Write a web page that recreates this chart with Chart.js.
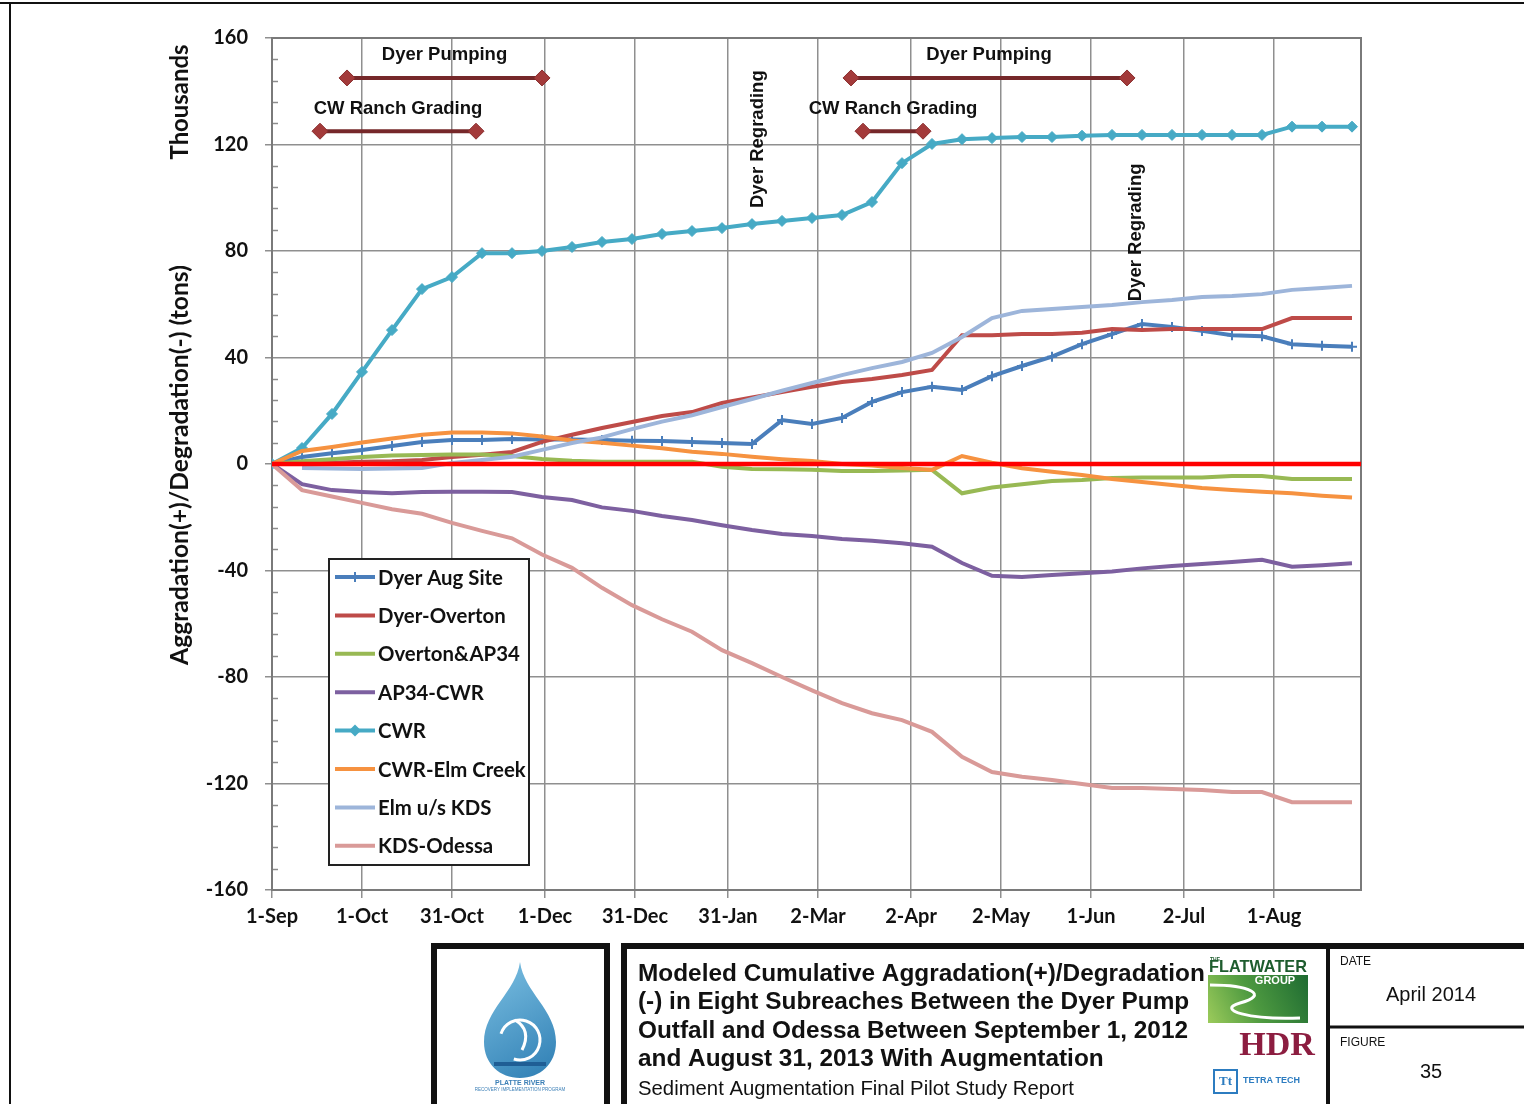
<!DOCTYPE html>
<html>
<head>
<meta charset="utf-8">
<script src="https://cdn.jsdelivr.net/npm/chart.js@4.4.1/dist/chart.umd.min.js"></script>
<style>
  html, body { margin: 0; padding: 0; background: #fff; }
  canvas { display: block; }
</style>
</head>
<body>
<canvas id="chart" width="1524" height="1104"></canvas>
<script>
// days since 1-Sep-2012, one model output every 10 days
const days = [0, 10, 20, 30, 40, 50, 60, 70, 80, 90, 100, 110, 120, 130, 140, 150, 160, 170, 180,
  190, 200, 210, 220, 230, 240, 250, 260, 270, 280, 290, 300, 310, 320, 330, 340, 350, 360];

const dateTickDays = [0, 30, 60, 91, 121, 152, 182, 213, 243, 273, 304, 334];
const dateTickLabels = ['1-Sep', '1-Oct', '31-Oct', '1-Dec', '31-Dec', '31-Jan', '2-Mar', '2-Apr', '2-May', '1-Jun', '2-Jul', '1-Aug'];

// cumulative tons (thousands)
const dyerAugSite = [0, 2.6, 4, 5.3, 6.8, 8.3, 9, 9, 9.4, 9.2, 9.2, 9, 8.7, 8.6, 8.3, 7.9, 7.5, 16.5, 15,
  17.3, 23.3, 27, 29, 27.8, 33, 36.8, 40.3, 45, 48.8, 52.6, 51.5, 50, 48.4, 48, 45, 44.4, 44];
const dyerOverton = [0, 0.3, 0.5, 0.8, 1, 1.5, 2.6, 3.5, 4.5, 8.3, 11, 13.5, 15.8, 18, 19.5, 22.9, 25, 27, 29,
  30.8, 31.9, 33.4, 35.3, 48.4, 48.4, 48.8, 48.8, 49.3, 50.7, 50.3, 50.7, 50.7, 50.7, 50.7, 54.8, 54.8, 54.8];
const overtonAP34 = [0, 1, 1.8, 2.6, 3.2, 3.4, 3.6, 3.6, 3, 1.9, 1.2, 0.8, 0.8, 0.8, 0.8, -1, -1.9, -2, -2.2,
  -2.6, -2.6, -2.4, -2.2, -11, -8.8, -7.6, -6.4, -6, -5.3, -5.1, -5.1, -5.1, -4.5, -4.5, -5.6, -5.6, -5.6];
const ap34Cwr = [0, -7.6, -9.8, -10.5, -11, -10.5, -10.4, -10.4, -10.5, -12.4, -13.5, -16.3, -17.6, -19.5, -21, -23, -24.8, -26.3, -27,
  -28.2, -28.8, -29.8, -31.1, -37.2, -42, -42.4, -41.7, -41, -40.4, -39.2, -38.3, -37.6, -36.8, -36, -38.6, -38, -37.3];
const cwr = [0, 6, 18.8, 34.6, 50.3, 65.7, 70.2, 79.2, 79.2, 80, 81.5, 83.4, 84.5, 86.4, 87.5, 88.6, 90.1, 91.3, 92.4,
  93.5, 98.4, 113, 120.2, 122, 122.4, 122.8, 122.8, 123.3, 123.6, 123.6, 123.6, 123.6, 123.6, 123.6, 126.7, 126.7, 126.7];
const cwrElmCreek = [0, 4.9, 6.4, 8.1, 9.6, 11, 11.8, 11.8, 11.5, 10.3, 8.8, 8, 6.9, 5.9, 4.6, 3.8, 2.7, 1.8, 1.1,
  0, -0.6, -1.5, -2.2, 3, 0.5, -1.6, -2.9, -4.1, -5.6, -6.8, -7.9, -9, -9.8, -10.4, -11, -11.9, -12.6];
const elmUsKds = [null, -1.5, -1.7, -1.9, -1.7, -1.5, 0.4, 1.5, 2.7, 5.3, 7.9, 10, 13.1, 15.9, 18.3, 21.4, 24.4, 27.5, 30.4,
  33.4, 36, 38.3, 41.7, 47.7, 54.8, 57.5, 58.2, 59, 59.7, 60.8, 61.6, 62.7, 63.1, 63.8, 65.4, 66.1, 66.9];
const kdsOdessa = [0, -9.8, -12.2, -14.6, -17, -18.7, -22.1, -25.1, -27.9, -34, -39, -46.5, -53, -58.3, -63, -69.9, -74.8, -80, -85,
  -89.8, -93.6, -96.2, -100.6, -110, -115.7, -117.5, -118.7, -120.2, -121.7, -121.7, -122.1, -122.4, -123.2, -123.2, -127, -127, -127];

const seriesNames = ['Dyer Aug Site', 'Dyer-Overton', 'Overton&AP34', 'AP34-CWR', 'CWR', 'CWR-Elm Creek', 'Elm u/s KDS', 'KDS-Odessa'];
const seriesValues = [dyerAugSite, dyerOverton, overtonAP34, ap34Cwr, cwr, cwrElmCreek, elmUsKds, kdsOdessa];

// construction activity periods (day numbers) and the level they are plotted at
const pumpingStart = [25, 193];
const pumpingEnd = [90, 285];
const pumpingLevel = 145;
const gradingStart = [16, 197];
const gradingEnd = [68, 217];
const gradingLevel = 125;
const regradingDays = [162, 288];

function getSeriesColor(name) {
    switch (name) {
        case 'Dyer Aug Site': return '#4A7EBB';
        case 'Dyer-Overton': return '#BE4B48';
        case 'Overton&AP34': return '#98B954';
        case 'AP34-CWR': return '#7D60A0';
        case 'CWR': return '#46AAC5';
        case 'CWR-Elm Creek': return '#F69240';
        case 'Elm u/s KDS': return '#9DB5DA';
        case 'KDS-Odessa': return '#D99A98';
        default: return '#888';
    }
}

function getSeriesMarker(name) {
    if (name === 'Dyer Aug Site') return { style: 'cross', radius: 5 };
    if (name === 'CWR') return { style: 'rectRot', radius: 5.5 };
    return null;
}

const datasets = seriesNames.map((name, i) => {
    const marker = getSeriesMarker(name);
    const color = getSeriesColor(name);
    return {
        label: name,
        data: days.map((d, j) => ({ x: d, y: seriesValues[i][j] })),
        borderColor: color,
        backgroundColor: color,
        borderWidth: 4,
        pointStyle: marker ? marker.style : 'circle',
        pointRadius: marker ? marker.radius : 0,
        pointBorderWidth: marker && marker.style === 'cross' ? 2 : 1,
        pointBorderColor: color,
        pointBackgroundColor: color,
        tension: 0,
        spanGaps: false,
        order: 20 - i
    };
});

// zero line
datasets.push({
    label: 'zero',
    data: [{ x: 0, y: 0 }, { x: 363, y: 0 }],
    borderColor: '#FF0000',
    borderWidth: 4.5,
    pointRadius: 0,
    order: 5
});

function activityBar(start, end, level) {
    return {
        label: 'activity',
        data: [{ x: start, y: level }, { x: end, y: level }],
        borderColor: '#76282A',
        borderWidth: 4,
        pointStyle: 'rectRot',
        pointRadius: 8,
        pointBackgroundColor: '#A33A3A',
        pointBorderColor: '#8A2E2E',
        pointBorderWidth: 1,
        order: 1
    };
}
pumpingStart.forEach((s, i) => datasets.push(activityBar(s, pumpingEnd[i], pumpingLevel)));
gradingStart.forEach((s, i) => datasets.push(activityBar(s, gradingEnd[i], gradingLevel)));

const TICK_FONT = { family: 'Lato', size: 20, weight: 'bold' };

function fitText(ctx, text, width, weight, family, baseSize) {
    ctx.font = weight + ' ' + baseSize + 'px ' + family;
    const w = ctx.measureText(text).width;
    const size = baseSize * width / w;
    ctx.font = weight + ' ' + size.toFixed(2) + 'px ' + family;
    return size;
}

const overlay = {
    id: 'overlay',
    beforeDatasetsDraw(chart) {
        const { ctx, chartArea, scales } = chart;
        const y = scales.y;
        ctx.save();
        ctx.strokeStyle = '#8c8c8c';
        ctx.lineWidth = 1.5;
        // minor ticks inside the plot
        for (let v = -160; v <= 160; v += 8) {
            if (v % 40 === 0) continue;
            const py = Math.round(y.getPixelForValue(v)) + 0.5;
            ctx.beginPath();
            ctx.moveTo(chartArea.left, py);
            ctx.lineTo(chartArea.left + 6, py);
            ctx.stroke();
        }
        // plot border
        ctx.strokeStyle = '#7a7a7a';
        ctx.lineWidth = 2;
        ctx.strokeRect(chartArea.left, chartArea.top, chartArea.right - chartArea.left, chartArea.bottom - chartArea.top);
        ctx.restore();
    },
    afterDraw(chart) {
        const { ctx, scales } = chart;
        const x = scales.x, y = scales.y;
        ctx.save();

        // activity labels
        ctx.fillStyle = '#111';
        ctx.textAlign = 'center';
        ctx.textBaseline = 'middle';
        ctx.font = 'bold 18.5px "Liberation Sans", Arial, sans-serif';
        pumpingStart.forEach((s, i) => {
            ctx.fillText('Dyer Pumping', x.getPixelForValue((s + pumpingEnd[i]) / 2), y.getPixelForValue(153.6));
        });
        gradingStart.forEach((s, i) => {
            ctx.fillText('CW Ranch Grading', x.getPixelForValue((s + gradingEnd[i]) / 2), y.getPixelForValue(133.2));
        });
        const regradingLevels = [122, 87];
        regradingDays.forEach((d, i) => {
            ctx.save();
            ctx.translate(x.getPixelForValue(d), y.getPixelForValue(regradingLevels[i]));
            ctx.rotate(-Math.PI / 2);
            ctx.fillText('Dyer Regrading', 0, 0);
            ctx.restore();
        });

        // axis titles
        ctx.save();
        ctx.translate(180, 102);
        ctx.rotate(-Math.PI / 2);
        fitText(ctx, 'Thousands', 115, 'bold', 'Lato, sans-serif', 22);
        ctx.fillText('Thousands', 0, 0);
        ctx.restore();
        ctx.save();
        ctx.translate(180, 465);
        ctx.rotate(-Math.PI / 2);
        fitText(ctx, 'Aggradation(+)/Degradation(-) (tons)', 400, 'bold', 'Lato, sans-serif', 22);
        ctx.fillText('Aggradation(+)/Degradation(-) (tons)', 0, 0);
        ctx.restore();

        // legend box
        const lx = 329, ly = 559, lw = 200, lh = 306;
        ctx.fillStyle = '#fff';
        ctx.fillRect(lx, ly, lw, lh);
        ctx.strokeStyle = '#222';
        ctx.lineWidth = 2;
        ctx.strokeRect(lx, ly, lw, lh);
        ctx.textAlign = 'left';
        fitText(ctx, 'Dyer Aug Site', 125, 'bold', 'Lato, sans-serif', 20);
        seriesNames.forEach((name, i) => {
            const ry = ly + 18 + i * 38.4;
            const color = getSeriesColor(name);
            ctx.strokeStyle = color;
            ctx.lineWidth = 4;
            ctx.beginPath();
            ctx.moveTo(lx + 6, ry);
            ctx.lineTo(lx + 46, ry);
            ctx.stroke();
            const marker = getSeriesMarker(name);
            if (marker) {
                ctx.fillStyle = color;
                if (marker.style === 'rectRot') {
                    ctx.beginPath();
                    ctx.moveTo(lx + 26, ry - 6); ctx.lineTo(lx + 32, ry);
                    ctx.lineTo(lx + 26, ry + 6); ctx.lineTo(lx + 20, ry);
                    ctx.closePath(); ctx.fill();
                } else {
                    ctx.lineWidth = 2;
                    ctx.beginPath();
                    ctx.moveTo(lx + 26, ry - 5); ctx.lineTo(lx + 26, ry + 5);
                    ctx.stroke();
                }
            }
            ctx.fillStyle = '#111';
            ctx.fillText(name, lx + 49, ry + 1);
        });

        drawTitleBlock(ctx);
        ctx.restore();
    }
};

function drawTitleBlock(ctx) {
    ctx.save();
    // page frame
    ctx.strokeStyle = '#111';
    ctx.lineWidth = 2;
    ctx.beginPath();
    ctx.moveTo(0, 3); ctx.lineTo(1524, 3);
    ctx.moveTo(10, 3); ctx.lineTo(10, 1104);
    ctx.stroke();

    // boxes
    ctx.lineWidth = 6;
    ctx.beginPath();
    ctx.moveTo(434, 1106); ctx.lineTo(434, 946); ctx.lineTo(607, 946); ctx.lineTo(607, 1106);
    ctx.stroke();
    ctx.beginPath();
    ctx.moveTo(624, 1106); ctx.lineTo(624, 946); ctx.lineTo(1530, 946);
    ctx.stroke();
    ctx.lineWidth = 4;
    ctx.beginPath();
    ctx.moveTo(1328, 946); ctx.lineTo(1328, 1106);
    ctx.stroke();
    ctx.lineWidth = 3;
    ctx.beginPath();
    ctx.moveTo(1328, 1027); ctx.lineTo(1530, 1027);
    ctx.stroke();

    // Platte River drop logo
    const grad = ctx.createLinearGradient(484, 962, 556, 1080);
    grad.addColorStop(0, '#7CC0E2');
    grad.addColorStop(1, '#2D7DB3');
    ctx.fillStyle = grad;
    ctx.beginPath();
    ctx.moveTo(520, 962);
    ctx.bezierCurveTo(524, 992, 556, 1010, 556, 1042);
    ctx.bezierCurveTo(556, 1064, 540, 1078, 520, 1078);
    ctx.bezierCurveTo(500, 1078, 484, 1064, 484, 1042);
    ctx.bezierCurveTo(484, 1010, 516, 992, 520, 962);
    ctx.fill();
    ctx.strokeStyle = '#fff';
    ctx.lineWidth = 3;
    ctx.beginPath();
    ctx.arc(520, 1040, 20, Math.PI * 1.1, Math.PI * 2.6);
    ctx.stroke();
    ctx.beginPath();
    ctx.moveTo(515, 1020); ctx.quadraticCurveTo(532, 1030, 522, 1050);
    ctx.stroke();
    ctx.fillStyle = '#1F5E95';
    ctx.fillRect(494, 1062, 52, 4);
    ctx.fillStyle = '#3B7FB6';
    ctx.textAlign = 'center';
    ctx.textBaseline = 'middle';
    ctx.font = 'bold 7px "Liberation Sans", sans-serif';
    ctx.fillText('PLATTE RIVER', 520, 1083);
    ctx.font = '4.5px "Liberation Sans", sans-serif';
    ctx.fillText('RECOVERY IMPLEMENTATION PROGRAM', 520, 1090);

    // main title
    ctx.fillStyle = '#111';
    ctx.textAlign = 'left';
    const fam = '"Liberation Sans", Arial, sans-serif';
    const lines = ['Modeled Cumulative Aggradation(+)/Degradation', '(-) in Eight Subreaches Between the Dyer Pump',
        'Outfall and Odessa Between September 1, 2012', 'and August 31, 2013 With Augmentation'];
    fitText(ctx, lines[0], 567, 'bold', fam, 22);
    lines.forEach((t, i) => ctx.fillText(t, 638, 974 + i * 28.4));
    fitText(ctx, 'Sediment Augmentation Final Pilot Study Report', 436, 'normal', fam, 19);
    ctx.fillText('Sediment Augmentation Final Pilot Study Report', 638, 1089);

    // date / figure
    ctx.font = '12px ' + fam;
    ctx.fillText('DATE', 1340, 962);
    ctx.fillText('FIGURE', 1340, 1043);
    ctx.textAlign = 'center';
    ctx.font = '20px ' + fam;
    ctx.fillText('April 2014', 1431, 995);
    ctx.fillText('35', 1431, 1072);

    // Flatwater Group logo
    ctx.fillStyle = '#1E5C2E';
    ctx.font = 'bold 5px ' + fam;
    ctx.fillText('THE', 1215, 960);
    fitText(ctx, 'FLATWATER', 98, 'bold', fam, 14);
    ctx.fillText('FLATWATER', 1258, 968);
    const g2 = ctx.createLinearGradient(1208, 1023, 1308, 975);
    g2.addColorStop(0, '#9CCB5B');
    g2.addColorStop(0.45, '#4E9A40');
    g2.addColorStop(1, '#1E6B32');
    ctx.fillStyle = g2;
    ctx.fillRect(1208, 975, 100, 48);
    ctx.strokeStyle = '#fff';
    ctx.lineWidth = 3;
    ctx.beginPath();
    ctx.moveTo(1210, 985);
    ctx.bezierCurveTo(1250, 985, 1270, 995, 1240, 1003);
    ctx.bezierCurveTo(1215, 1010, 1250, 1020, 1300, 1018);
    ctx.stroke();
    ctx.fillStyle = '#fff';
    ctx.font = 'bold 11px ' + fam;
    ctx.fillText('GROUP', 1275, 981);

    // HDR logo
    ctx.fillStyle = '#8C1D40';
    ctx.font = 'bold 34px "Liberation Serif", serif';
    ctx.fillText('HDR', 1277, 1046);

    // Tetra Tech logo
    ctx.strokeStyle = '#2C7CC0';
    ctx.lineWidth = 2;
    ctx.strokeRect(1214, 1070, 23, 23);
    ctx.fillStyle = '#2C7CC0';
    ctx.font = 'bold 13px "Liberation Serif", serif';
    ctx.fillText('Tt', 1225.5, 1082);
    ctx.textAlign = 'left';
    ctx.font = 'bold 9px ' + fam;
    ctx.fillText('TETRA TECH', 1243, 1081);
    ctx.restore();
}

const ctx = document.getElementById('chart').getContext('2d');
new Chart(ctx, {
    type: 'line',
    data: { datasets: datasets },
    options: {
        responsive: false,
        animation: false,
        events: [],
        layout: { padding: { left: 0, top: 38, right: 163, bottom: 0 } },
        plugins: {
            legend: { display: false },
            tooltip: { enabled: false }
        },
        scales: {
            x: {
                type: 'linear',
                min: 0,
                max: 363,
                afterFit: (scale) => { scale.height = 214; },
                afterBuildTicks: (scale) => {
                    scale.ticks = dateTickDays.map(v => ({ value: v }));
                },
                ticks: {
                    autoSkip: false,
                    maxRotation: 0,
                    padding: 7,
                    color: '#111',
                    font: TICK_FONT,
                    callback: (v) => dateTickLabels[dateTickDays.indexOf(v)]
                },
                grid: { color: '#8f8f8f', lineWidth: 1.5, tickLength: 8 },
                border: { color: '#8f8f8f', width: 1.5 }
            },
            y: {
                min: -160,
                max: 160,
                afterFit: (scale) => { scale.width = 272; },
                ticks: { stepSize: 40, padding: 17, color: '#111', font: TICK_FONT },
                grid: { color: '#8f8f8f', lineWidth: 1.5, tickLength: 7 },
                border: { color: '#8f8f8f', width: 1.5 }
            }
        }
    },
    plugins: [overlay]
});
</script>
</body>
</html>
